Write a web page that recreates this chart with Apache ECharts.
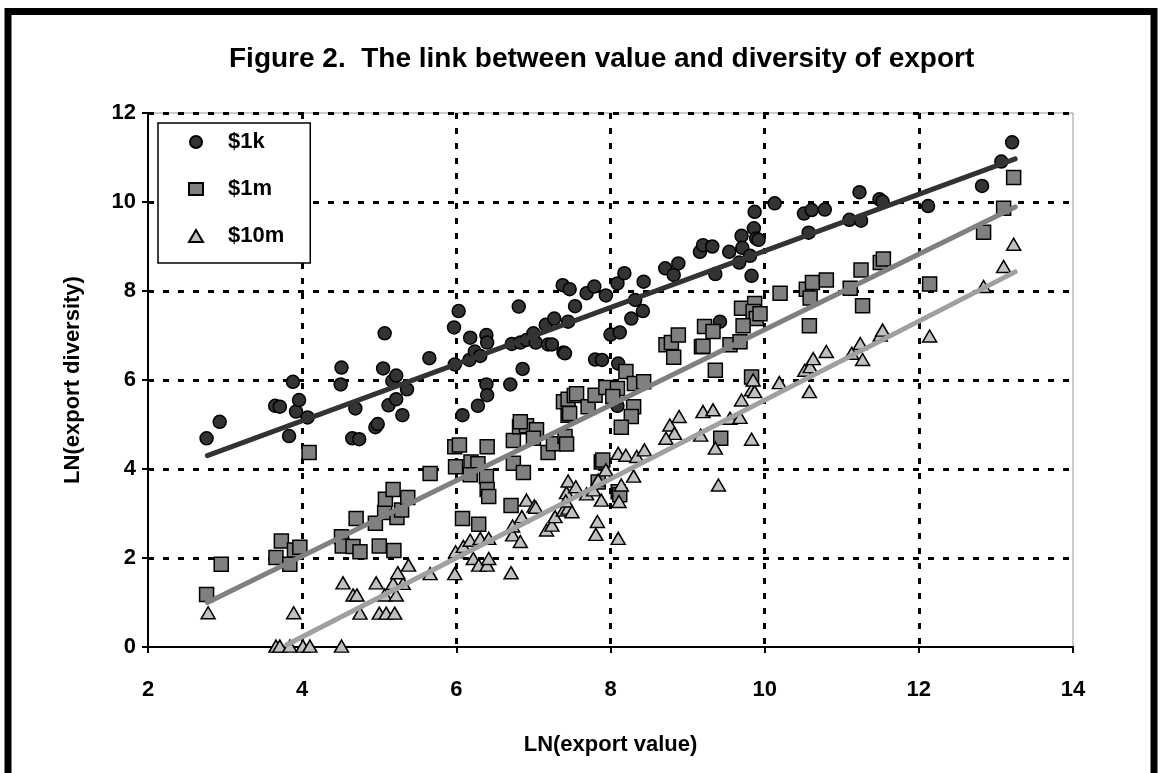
<!DOCTYPE html>
<html>
<head>
<meta charset="utf-8">
<title>Figure 2</title>
<script src="https://cdn.jsdelivr.net/npm/echarts@6/dist/echarts.min.js"></script>
<style>
  html, body { margin: 0; padding: 0; background: #fff; }
  #chart { width: 1162px; height: 773px; }
</style>
</head>
<body>
<div id="chart"></div>
<script>
// points: [LN(export value), LN(export diversity)]
const pts1k = [
  [2.76, 4.69], [2.93, 5.06], [3.65, 5.42], [3.71, 5.40], [3.83, 4.74], [3.88, 5.96],
  [3.92, 5.29], [3.96, 5.55], [4.07, 5.16], [4.51, 6.28], [4.50, 5.90], [4.65, 4.69],
  [4.74, 4.67], [4.69, 5.36], [4.95, 4.94], [4.98, 5.01], [5.07, 7.05], [5.05, 6.26],
  [5.12, 5.43], [5.17, 5.98], [5.22, 6.10], [5.22, 5.57], [5.30, 5.21], [5.36, 5.79],
  [5.65, 6.49], [5.97, 7.18], [6.03, 7.55], [6.18, 6.95], [6.17, 6.45], [6.24, 6.64],
  [6.31, 6.54], [5.98, 6.35], [6.39, 7.01], [6.40, 6.84], [6.39, 5.90], [6.40, 5.66],
  [6.28, 5.42], [6.08, 5.21], [6.70, 5.90], [6.72, 6.81], [6.83, 6.84], [6.91, 6.90],
  [6.81, 7.65], [6.86, 6.25], [7.00, 7.05], [7.03, 6.84], [7.19, 6.80], [7.24, 6.80],
  [7.16, 7.24], [7.27, 7.38], [7.39, 6.62], [7.41, 6.60], [7.45, 7.31], [7.54, 7.66],
  [7.38, 8.13], [7.47, 8.04], [7.69, 7.95], [7.79, 8.10], [7.80, 6.46], [7.89, 6.45],
  [7.94, 7.90], [8.00, 7.02], [8.12, 7.07], [8.09, 8.17], [8.10, 6.37], [8.09, 5.42],
  [8.18, 8.40], [8.27, 7.38], [8.32, 7.80], [8.43, 8.21], [8.42, 7.55], [8.71, 8.51],
  [8.82, 8.36], [8.88, 8.62], [9.16, 8.88], [9.20, 9.03], [9.32, 9.00], [9.36, 8.38],
  [9.54, 8.88], [9.67, 8.64], [9.70, 9.24], [9.71, 8.97], [9.81, 8.79], [9.83, 8.34],
  [9.86, 9.41], [9.87, 9.78], [9.89, 9.18], [9.92, 9.15], [9.42, 7.31], [10.13, 9.97],
  [10.51, 9.74], [10.61, 9.82], [10.78, 9.83], [10.57, 9.31], [11.10, 9.60], [11.25, 9.58],
  [11.23, 10.22], [11.49, 10.06], [11.53, 10.01], [12.12, 9.91], [12.82, 10.36],
  [13.07, 10.91], [13.21, 11.34]
];

const pts1m = [
  [2.76, 1.18], [2.95, 1.86], [3.73, 2.38], [3.66, 2.01], [3.84, 1.86], [3.90, 2.18],
  [3.97, 2.24], [4.09, 4.37], [4.51, 2.48], [4.52, 2.27], [4.66, 2.26], [4.75, 2.14],
  [4.70, 2.89], [5.00, 2.27], [5.19, 2.17], [4.95, 2.78], [5.07, 3.02], [5.08, 3.32],
  [5.18, 3.54], [5.23, 2.91], [5.29, 3.08], [5.37, 3.36], [5.66, 3.90], [5.99, 4.05],
  [6.19, 4.16], [6.28, 4.12], [6.18, 3.87], [6.39, 3.83], [6.40, 3.54], [6.42, 3.38],
  [6.08, 2.89], [6.29, 2.76], [5.98, 4.50], [6.04, 4.54], [6.40, 4.50], [6.71, 3.18],
  [6.74, 4.64], [6.82, 4.95], [6.91, 4.97], [7.04, 4.88], [6.83, 5.06], [6.74, 4.13],
  [6.87, 3.92], [7.00, 4.69], [7.19, 4.37], [7.26, 4.57], [7.41, 4.73], [7.43, 4.56],
  [7.88, 4.16], [8.10, 3.49], [8.12, 3.42], [7.84, 3.71], [7.90, 4.20], [7.39, 5.51],
  [7.45, 5.57], [7.53, 5.65], [7.56, 5.69], [7.45, 5.21], [7.47, 5.25], [7.71, 5.40],
  [7.80, 5.66], [7.94, 5.83], [8.09, 5.81], [8.03, 5.63], [8.20, 6.19], [8.31, 5.92],
  [8.43, 5.96], [8.30, 5.40], [8.27, 5.18], [8.14, 4.94], [8.72, 6.79], [8.79, 6.84],
  [8.88, 7.01], [8.82, 6.51], [9.18, 6.75], [9.22, 7.20], [9.33, 7.09], [9.36, 6.22],
  [9.20, 6.76], [9.55, 6.79], [9.68, 6.86], [9.70, 7.61], [9.87, 7.72], [9.85, 7.54],
  [9.89, 7.38], [9.94, 7.49], [9.72, 7.22], [9.83, 6.07], [9.43, 4.69], [10.20, 7.95],
  [10.54, 8.04], [10.62, 8.19], [10.80, 8.25], [10.59, 7.84], [10.58, 7.22], [11.11, 8.06],
  [11.25, 8.47], [11.27, 7.67], [11.50, 8.64], [11.54, 8.72], [12.14, 8.16], [12.84, 9.32],
  [13.10, 9.86], [13.23, 10.55]
];

const pts10m = [
  [2.78, 0.77], [3.66, 0.02], [3.71, 0.02], [3.84, 0.02], [4.01, 0.02], [4.10, 0.02],
  [3.89, 0.77], [4.51, 0.02], [4.53, 1.44], [4.66, 1.17], [4.71, 1.17], [4.75, 0.76],
  [4.96, 1.44], [5.00, 0.76], [5.09, 0.76], [5.20, 0.76], [5.07, 1.17], [5.22, 1.17],
  [5.18, 1.43], [5.31, 1.43], [5.24, 1.67], [5.38, 1.84], [5.66, 1.65], [5.98, 1.65],
  [5.99, 2.14], [6.09, 2.26], [6.18, 2.40], [6.31, 2.44], [6.42, 2.44], [6.22, 1.99],
  [6.29, 1.84], [6.40, 1.84], [6.42, 1.99], [6.71, 1.67], [6.73, 2.52], [6.83, 2.37],
  [6.73, 2.72], [6.85, 2.93], [6.91, 3.30], [7.01, 3.17], [7.03, 3.14], [7.17, 2.63],
  [7.24, 2.74], [7.28, 2.93], [7.39, 3.08], [7.45, 3.12], [7.50, 3.04], [7.43, 3.47],
  [7.45, 3.73], [7.55, 3.60], [7.42, 3.28], [7.69, 3.44], [7.78, 3.53], [7.88, 3.30],
  [7.84, 3.75], [7.83, 2.82], [7.81, 2.53], [7.94, 3.98], [8.10, 4.35], [8.20, 4.31],
  [8.34, 4.28], [8.44, 4.43], [8.30, 3.84], [8.14, 3.64], [8.11, 3.27], [8.10, 2.44],
  [8.77, 4.99], [8.83, 4.80], [8.72, 4.69], [8.89, 5.18], [9.17, 4.76], [9.36, 4.47],
  [9.40, 3.64], [9.20, 5.29], [9.33, 5.33], [9.55, 5.14], [9.68, 5.16], [9.83, 4.67],
  [9.70, 5.55], [9.83, 5.78], [9.87, 5.74], [9.85, 6.00], [10.19, 5.94], [10.52, 6.22],
  [10.59, 6.30], [10.63, 6.48], [10.58, 5.74], [10.80, 6.64], [11.13, 6.60], [11.24, 6.82],
  [11.27, 6.46], [11.50, 7.01], [11.53, 7.12], [12.14, 6.99], [12.84, 8.10], [13.10, 8.55],
  [13.23, 9.05]
];

// fitted trend lines (end points)
const trend1k = [[2.77, 4.30], [13.25, 10.97]];
const trend1m = [[2.77, 1.00], [13.25, 9.89]];
const trend10m = [[3.80, 0.05], [13.25, 8.43]];

const seriesNames = ['$1k', '$1m', '$10m'];
const xTicks = { min: 2, max: 14, step: 2 };
const yTicks = { min: 0, max: 12, step: 2 };

const chart = echarts.init(document.getElementById('chart'));

const font = 'Liberation Sans, Arial, sans-serif';
const gridDash = { color: '#000', width: 3, type: [6, 9] };

const option = {
  backgroundColor: '#fff',
  animation: false,
  textStyle: { fontFamily: font },
  title: {
    text: 'Figure 2.  The link between value and diversity of export',
    left: 224,
    top: 40,
    textStyle: { fontSize: 28, fontWeight: 'bold', color: '#000', fontFamily: font }
  },
  graphic: [
    {
      type: 'rect',
      shape: { x: 8, y: 11.5, width: 1146, height: 820 },
      style: { fill: 'none', stroke: '#000', lineWidth: 7 },
      silent: true
    }
  ],
  legend: {
    data: seriesNames,
    orient: 'vertical',
    left: 158,
    top: 123,
    padding: [8, 26, 16, 30],
    itemGap: 25,
    itemWidth: 14,
    itemHeight: 12,
    backgroundColor: '#fff',
    borderColor: '#000',
    borderWidth: 1.5,
    borderRadius: 0,
    textStyle: { fontSize: 22, fontWeight: 'bold', color: '#000', fontFamily: font, padding: [0, 0, 0, 20] }
  },
  grid: {
    left: 148,
    right: 89,
    top: 113,
    bottom: 126,
    containLabel: false,
    outerBoundsMode: 'none',
    show: true,
    borderColor: '#999',
    borderWidth: 1
  },
  xAxis: {
    type: 'value',
    min: xTicks.min,
    max: xTicks.max,
    interval: xTicks.step,
    name: 'LN(export value)',
    nameLocation: 'middle',
    nameGap: 87,
    nameTextStyle: { fontSize: 22, fontWeight: 'bold', color: '#000', fontFamily: font },
    axisLine: { show: true, onZero: false, lineStyle: { color: '#000', width: 2 } },
    axisTick: { show: true, length: 6, lineStyle: { color: '#000', width: 2 } },
    axisLabel: { margin: 32, fontSize: 22, fontWeight: 'bold', color: '#000', fontFamily: font },
    splitLine: { show: true, showMinLine: false, showMaxLine: false, lineStyle: gridDash }
  },
  yAxis: {
    type: 'value',
    min: yTicks.min,
    max: yTicks.max,
    interval: yTicks.step,
    name: 'LN(export diversity)',
    nameLocation: 'middle',
    nameGap: 64,
    nameTextStyle: { fontSize: 22, fontWeight: 'bold', color: '#000', fontFamily: font },
    axisLine: { show: true, onZero: false, lineStyle: { color: '#000', width: 2 } },
    axisTick: { show: true, length: 6, lineStyle: { color: '#000', width: 2 } },
    axisLabel: { margin: 12, fontSize: 22, fontWeight: 'bold', color: '#000', fontFamily: font },
    splitLine: { show: true, showMinLine: false, lineStyle: gridDash }
  },
  series: [
    {
      name: '$1k',
      type: 'scatter',
      symbol: 'circle',
      symbolSize: 13,
      data: pts1k,
      itemStyle: { color: '#333333', borderColor: '#000', borderWidth: 1.5, opacity: 1 },
      z: 3
    },
    {
      name: '$1m',
      type: 'scatter',
      symbol: 'rect',
      symbolSize: 14,
      data: pts1m,
      itemStyle: { color: '#808080', borderColor: '#000', borderWidth: 1.5, opacity: 1 },
      z: 3
    },
    {
      name: '$10m',
      type: 'scatter',
      symbol: 'triangle',
      symbolSize: [14, 12],
      data: pts10m,
      itemStyle: { color: '#c0c0c0', borderColor: '#000', borderWidth: 1.5, opacity: 1 },
      z: 3
    },
    {
      name: 'trend $1k',
      type: 'line',
      data: trend1k,
      symbol: 'none',
      lineStyle: { color: '#333333', width: 5, cap: 'round' },
      silent: true,
      z: 5
    },
    {
      name: 'trend $1m',
      type: 'line',
      data: trend1m,
      symbol: 'none',
      lineStyle: { color: '#808080', width: 5, cap: 'round' },
      silent: true,
      z: 5
    },
    {
      name: 'trend $10m',
      type: 'line',
      data: trend10m,
      symbol: 'none',
      lineStyle: { color: '#a0a0a0', width: 5, cap: 'round' },
      silent: true,
      z: 5
    }
  ]
};

chart.setOption(option);
</script>
</body>
</html>
